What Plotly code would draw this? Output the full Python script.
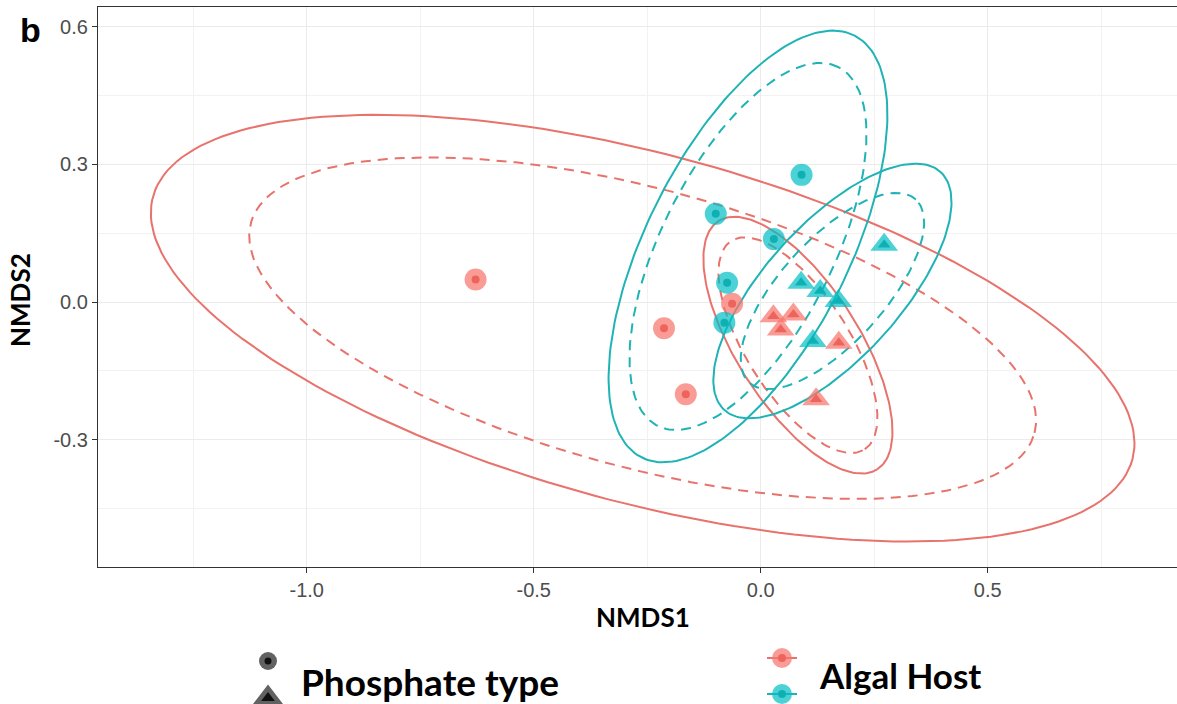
import numpy as np
import plotly.graph_objects as go

# ---------------- data ----------------
# salmon circles
salmon_circle_x = [-0.628, -0.213, -0.165, -0.063]
salmon_circle_y = [0.049, -0.057, -0.201, -0.004]
# salmon triangles
salmon_tri_x = [0.028, 0.072, 0.044, 0.172, 0.122]
salmon_tri_y = [-0.031, -0.027, -0.060, -0.089, -0.212]
# teal circles
teal_circle_x = [0.090, -0.099, 0.029, -0.074, -0.080]
teal_circle_y = [0.277, 0.192, 0.137, 0.042, -0.045]
# teal triangles
teal_tri_x = [0.272, 0.089, 0.131, 0.171, 0.115]
teal_tri_y = [0.125, 0.042, 0.024, 0.002, -0.085]

# ellipses: salmon-circle, salmon-triangle, teal-circle, teal-triangle
ell_cx = [-0.260, 0.082, -0.028, 0.158]
ell_cy = [-0.057, -0.094, 0.121, 0.024]
ell_a = [1.116, 0.322, 0.516, 0.352]
ell_b = [0.380, 0.134, 0.222, 0.148]
ell_angle = [-14.8, -57.0, 62.9, 47.3]
ell_inner_scale = [0.80, 0.84, 0.85, 0.77]

x_ticks = [-1.0, -0.5, 0.0, 0.5]
x_tick_text = ["-1.0", "-0.5", "0.0", "0.5"]
y_ticks = [-0.3, 0.0, 0.3, 0.6]
y_tick_text = ["-0.3", "0.0", "0.3", "0.6"]

# ---------------- style ----------------
SALMON_LINE = "#E8736C"
TEAL_LINE = "#1FB3B6"
SALMON_OUT = "rgba(248,118,109,0.72)"
SALMON_IN = "#EE645C"
TEAL_OUT = "rgba(0,191,196,0.70)"
TEAL_IN = "#0FB0B3"
GREY_OUT = "rgba(70,70,70,0.85)"
GREY_IN = "#111111"

W, H = 1177, 704
ML, MR, MT, MB = 98, 0, 7, 137

def px2x(px):
    return (px - 760.7) / 454.0

def py2y(py):
    return (302.0 - py) / 459.0

def ellipse(cx, cy, a, b, ang, s=1.0):
    t = np.linspace(0, 2 * np.pi, 200)
    th = np.deg2rad(ang)
    ex = a * s * np.cos(t)
    ey = b * s * np.sin(t)
    return cx + ex * np.cos(th) - ey * np.sin(th), cy + ex * np.sin(th) + ey * np.cos(th)

fig = go.Figure()

ell_colors = [SALMON_LINE, SALMON_LINE, TEAL_LINE, TEAL_LINE]
for i in range(4):
    xs, ys = ellipse(ell_cx[i], ell_cy[i], ell_a[i], ell_b[i], ell_angle[i])
    fig.add_trace(go.Scatter(x=xs, y=ys, mode="lines", line=dict(color=ell_colors[i], width=2),
                             showlegend=False, hoverinfo="skip"))
    xs, ys = ellipse(ell_cx[i], ell_cy[i], ell_a[i], ell_b[i], ell_angle[i], ell_inner_scale[i])
    fig.add_trace(go.Scatter(x=xs, y=ys, mode="lines",
                             line=dict(color=ell_colors[i], width=2, dash="10px,7px"),
                             showlegend=False, hoverinfo="skip"))

groups = [
    (salmon_circle_x, salmon_circle_y, "circle", SALMON_OUT, SALMON_IN, 22, 8),
    (teal_circle_x, teal_circle_y, "circle", TEAL_OUT, TEAL_IN, 22, 8),
    (salmon_tri_x, salmon_tri_y, "triangle-up", SALMON_OUT, SALMON_IN, 24, 11),
    (teal_tri_x, teal_tri_y, "triangle-up", TEAL_OUT, TEAL_IN, 24, 11),
]
for gx, gy, sym, cout, cin, so, si in groups:
    fig.add_trace(go.Scatter(x=gx, y=gy, mode="markers",
                             marker=dict(symbol=sym, size=so, color=cout, line=dict(width=0)),
                             showlegend=False, hoverinfo="skip"))
    fig.add_trace(go.Scatter(x=gx, y=gy, mode="markers",
                             marker=dict(symbol=sym, size=si, color=cin, line=dict(width=0)),
                             showlegend=False, hoverinfo="skip"))

def paper_x(px):
    return (px - ML) / (W - ML - MR)

def paper_y(py):
    return (H - MB - py) / (H - MB - MT)

# ---------------- legend keys (layout shapes in the bottom margin) ----------------
shapes = []

def key_circle(px, py, r, color):
    shapes.append(dict(type="circle", xref="paper", yref="paper", xsizemode="pixel", ysizemode="pixel",
                       xanchor=paper_x(px), yanchor=paper_y(py), x0=-r, x1=r, y0=-r, y1=r,
                       fillcolor=color, line=dict(width=0), layer="above"))

def key_tri(px, py, s, color):
    h = s * 0.75
    path = "M {:.1f},{:.1f} L {:.1f},{:.1f} L 0,{:.1f} Z".format(-s * 0.577, -h / 3, s * 0.577, -h / 3, 2 * h / 3)
    shapes.append(dict(type="path", xref="paper", yref="paper", xsizemode="pixel", ysizemode="pixel",
                       xanchor=paper_x(px), yanchor=paper_y(py), path=path,
                       fillcolor=color, line=dict(width=0), layer="above"))

def key_line(px, py, half, color):
    shapes.append(dict(type="line", xref="paper", yref="paper", xsizemode="pixel", ysizemode="pixel",
                       xanchor=paper_x(px), yanchor=paper_y(py), x0=-half, x1=half, y0=0, y1=0,
                       line=dict(color=color, width=2), layer="above"))

key_circle(268, 661, 9, GREY_OUT)
key_circle(268, 661, 3.5, GREY_IN)
key_tri(268, 698, 27, GREY_OUT)
key_tri(268, 698, 12, GREY_IN)
key_line(782, 658, 15, SALMON_LINE)
key_circle(782, 658, 10, SALMON_OUT)
key_circle(782, 658, 4, SALMON_IN)
key_line(782, 694, 15, TEAL_LINE)
key_circle(782, 694, 10, TEAL_OUT)
key_circle(782, 694, 4, TEAL_IN)

ann = []
ann.append(dict(text="<b>Phosphate type</b>", x=paper_x(299), y=paper_y(681), xref="paper", yref="paper",
                xanchor="left", yanchor="middle", showarrow=False,
                font=dict(family="Lato", size=37, color="black")))
ann.append(dict(text="<b>Algal Host</b>", x=paper_x(817), y=paper_y(675), xref="paper", yref="paper",
                xanchor="left", yanchor="middle", showarrow=False,
                font=dict(family="Lato", size=35, color="black")))
ann.append(dict(text="<b>NMDS1</b>", x=paper_x(643), y=paper_y(617), xref="paper", yref="paper",
                xanchor="center", yanchor="middle", showarrow=False,
                font=dict(family="Lato", size=26, color="black")))
ann.append(dict(text="<b>NMDS2</b>", x=paper_x(20), y=paper_y(300), xref="paper", yref="paper",
                xanchor="center", yanchor="middle", showarrow=False, textangle=-90,
                font=dict(family="Lato", size=26, color="black")))
ann.append(dict(text="<b>b</b>", x=paper_x(30), y=paper_y(30), xref="paper", yref="paper",
                xanchor="center", yanchor="middle", showarrow=False,
                font=dict(family="Liberation Sans", size=34, color="black")))

grid_major = "#EBEBEB"
fig.update_layout(
    width=W, height=H,
    margin=dict(l=ML, r=MR, t=MT, b=MB, pad=0),
    plot_bgcolor="white", paper_bgcolor="white",
    annotations=ann, shapes=shapes,
    xaxis=dict(range=[px2x(ML), px2x(W - MR)], tickvals=x_ticks, ticktext=x_tick_text,
               showgrid=True, gridcolor=grid_major, gridwidth=1.2,
               minor=dict(tickvals=[-1.25, -0.75, -0.25, 0.25, 0.75], showgrid=True,
                          gridcolor="#F2F2F2", gridwidth=1, ticklen=0),
               zeroline=False, showline=True, linecolor="#333333", linewidth=1.2, mirror=True,
               ticks="outside", ticklen=5, tickcolor="#333333", tickwidth=1.2,
               tickfont=dict(family="Liberation Sans", size=20, color="#4D4D4D")),
    yaxis=dict(range=[py2y(H - MB), py2y(MT)], tickvals=y_ticks, ticktext=y_tick_text,
               showgrid=True, gridcolor=grid_major, gridwidth=1.2,
               minor=dict(tickvals=[-0.45, -0.15, 0.15, 0.45], showgrid=True,
                          gridcolor="#F2F2F2", gridwidth=1, ticklen=0),
               zeroline=False, showline=True, linecolor="#333333", linewidth=1.2, mirror=False,
               ticks="outside", ticklen=5, tickcolor="#333333", tickwidth=1.2,
               tickfont=dict(family="Liberation Sans", size=20, color="#4D4D4D")),
)

fig.write_html("out.html", config={"displayModeBar": False},
               post_script="document.body.style.margin='0px';document.body.style.overflow='hidden';")
